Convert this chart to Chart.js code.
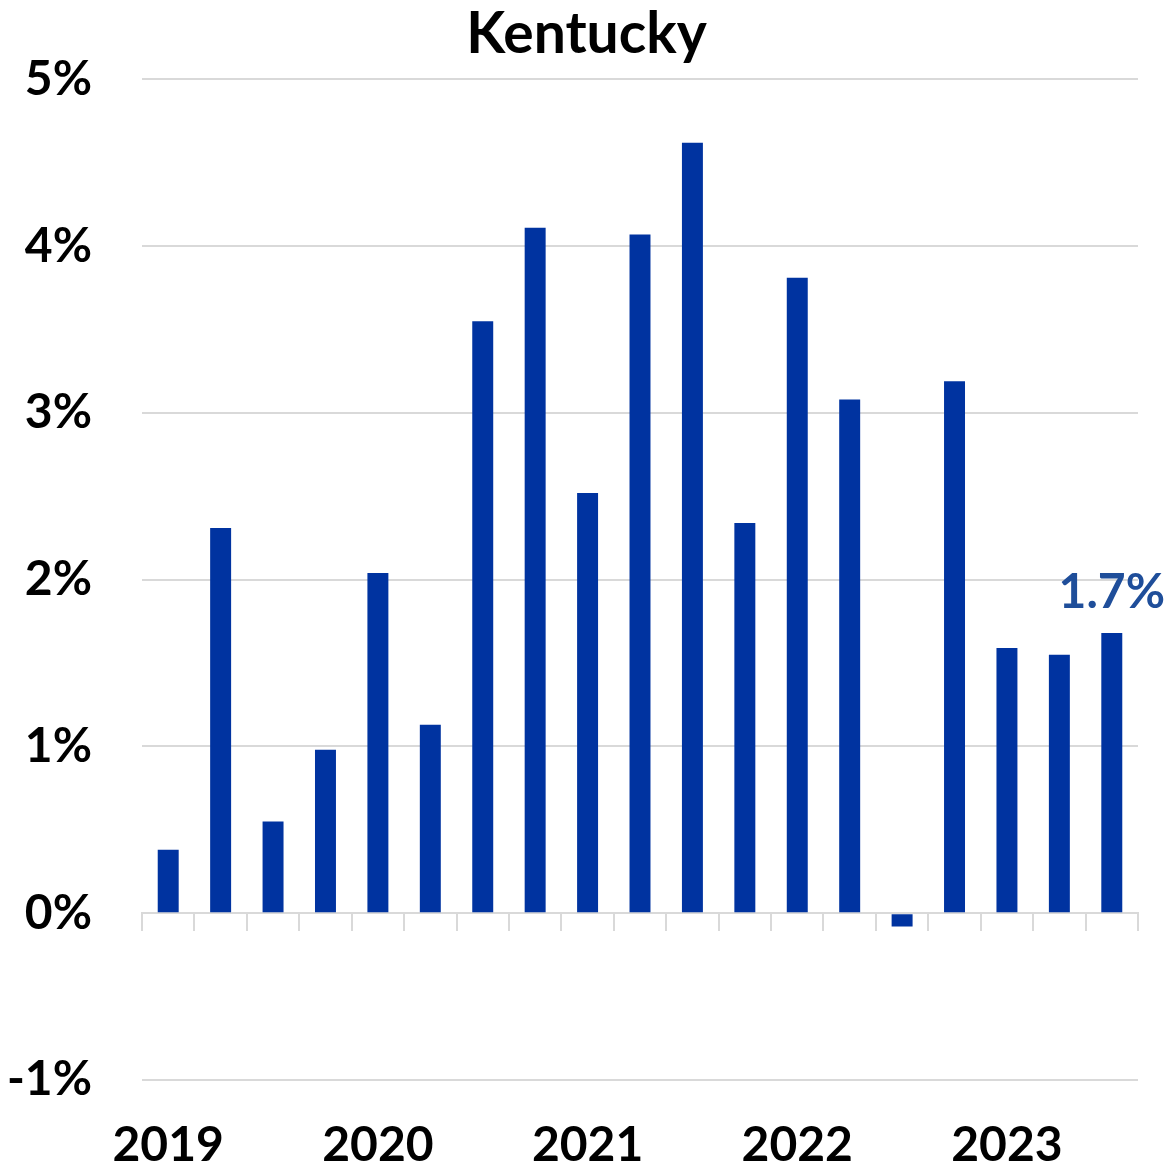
<!DOCTYPE html>
<html>
<head>
<meta charset="utf-8">
<script src="https://cdn.jsdelivr.net/npm/chart.js@4"></script>
<style>
  body { margin: 0; background: #fff; }
  #wrap { width: 1173px; height: 1170px; }
</style>
</head>
<body>
<div id="wrap"><canvas id="chart"></canvas></div>
<script>
// quarterly values
const quarters = ['2019 Q1', '2019 Q2', '2019 Q3', '2019 Q4',
                  '2020 Q1', '2020 Q2', '2020 Q3', '2020 Q4',
                  '2021 Q1', '2021 Q2', '2021 Q3', '2021 Q4',
                  '2022 Q1', '2022 Q2', '2022 Q3', '2022 Q4',
                  '2023 Q1', '2023 Q2', '2023 Q3'];
const growth = [0.38, 2.31, 0.55, 0.98, 2.04, 1.13, 3.55, 4.11, 2.52, 4.07,
                4.62, 2.34, 3.81, 3.08, -0.08, 3.19, 1.59, 1.55, 1.68];
const yMin = -1, yMax = 5, yStep = 1;
const lastLabel = '1.7%';

const fontFam = 'Lato, "Open Sans", sans-serif';
const gridClr = '#d9d9d9';

// draws the value above the last bar
const lastLabelPlugin = {
  id: 'lastLabel',
  afterDatasetsDraw(chart) {
    const meta = chart.getDatasetMeta(0);
    const bar = meta.data[meta.data.length - 1];
    const ctx = chart.ctx;
    ctx.save();
    ctx.font = 'bold 48px ' + fontFam;
    ctx.fillStyle = '#1F4E9A';
    ctx.textAlign = 'center';
    ctx.textBaseline = 'alphabetic';
    ctx.fillText(lastLabel, bar.x, bar.y - 25);
    ctx.restore();
  }
};

const ctx = document.getElementById('chart');
new Chart(ctx, {
  type: 'bar',
  data: {
    labels: quarters,
    datasets: [{
      data: growth,
      backgroundColor: '#0033A0',
      barPercentage: 0.4,
      categoryPercentage: 1.0
    }]
  },
  options: {
    responsive: true,
    maintainAspectRatio: false,
    animation: false,
    plugins: {
      legend: { display: false },
      tooltip: { enabled: false },
      title: {
        display: true,
        text: 'Kentucky',
        color: '#000',
        font: { family: fontFam, size: 57, weight: 'bold' },
        padding: { top: 0, bottom: 11 }
      }
    },
    scales: {
      x: {
        position: 'bottom',
        grid: { display: false, drawTicks: false },
        border: { display: false },
        ticks: {
          color: '#000',
          font: { family: fontFam, size: 48, weight: 'bold' },
          padding: 37,
          maxRotation: 0,
          autoSkip: false,
          callback: function (v, i) {
            let q = quarters[i];
            return q.endsWith('Q1') ? q.slice(0, 4) : '';
          }
        },
        afterFit: function (s) { s.height = 90; }
      },
      x0: {
        type: 'category',
        position: { y: 0 },
        offset: true,
        grid: { offset: true, drawOnChartArea: false, drawTicks: true, tickLength: 17, color: gridClr, lineWidth: 2 },
        border: { display: true, color: gridClr, width: 2 },
        ticks: { display: false }
      },
      y: {
        min: yMin,
        max: yMax,
        grid: { color: gridClr, lineWidth: 2, drawTicks: false },
        border: { display: false },
        ticks: {
          stepSize: yStep,
          color: '#000',
          padding: 50,
          font: { family: fontFam, size: 48, weight: 'bold' },
          callback: function (v) { return v + '%'; }
        },
        afterFit: function (s) { s.width = 142; }
      },
      // empty right axis, only to keep a right margin
      yR: {
        position: 'right',
        min: yMin,
        max: yMax,
        grid: { display: false, drawTicks: false },
        border: { display: false },
        ticks: { display: false },
        afterFit: function (s) { s.width = 35; }
      }
    }
  },
  plugins: [lastLabelPlugin]
});
</script>
</body>
</html>
